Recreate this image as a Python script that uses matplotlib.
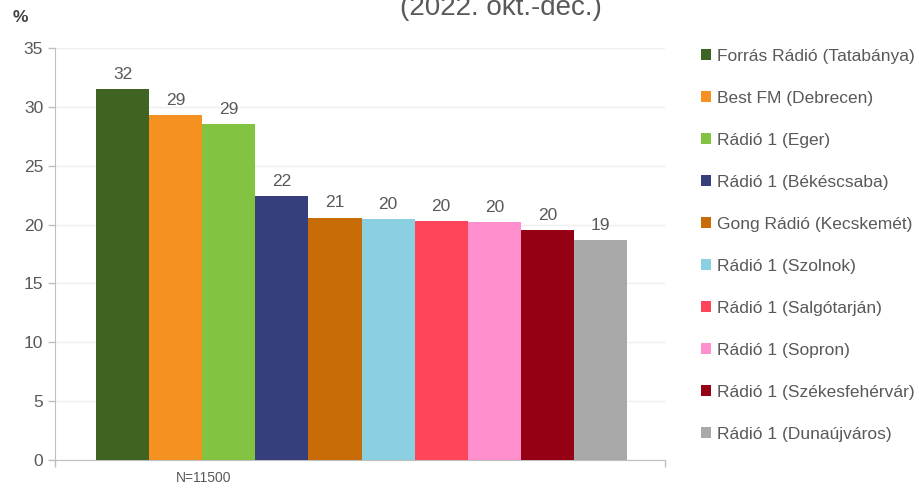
import matplotlib
matplotlib.use("Agg")
import matplotlib.pyplot as plt
from matplotlib.patches import Patch

plt.rcParams['font.family'] = ['Liberation Sans', 'DejaVu Sans']

stations = ["Forrás Rádió (Tatabánya)", "Best FM (Debrecen)", "Rádió 1 (Eger)",
            "Rádió 1 (Békéscsaba)", "Gong Rádió (Kecskemét)", "Rádió 1 (Szolnok)",
            "Rádió 1 (Salgótarján)", "Rádió 1 (Sopron)", "Rádió 1 (Székesfehérvár)",
            "Rádió 1 (Dunaújváros)"]
values = [31.5, 29.3, 28.55, 22.4, 20.6, 20.5, 20.3, 20.2, 19.5, 18.7]
labels = ["32", "29", "29", "22", "21", "20", "20", "20", "20", "19"]
colors = ["#3f6320", "#f59120", "#82c341", "#363f7c", "#c76c06", "#8bd0e0",
          "#ff4559", "#ff8fcd", "#960014", "#a9a9a9"]
yticks = [0, 5, 10, 15, 20, 25, 30, 35]
title = "(2022. okt.-dec.)"
note = "N=11500"

txt = "#595959"
fig = plt.figure(figsize=(9.19, 4.88), dpi=100)
ax = fig.add_axes([55/919, 28/488, 610/919, 412/488])
ax.set_xlim(0, 1)
ax.set_ylim(0, 35)

start = 41/610
w = 53.1/610
for i, (v, c, lab) in enumerate(zip(values, colors, labels)):
    x = start + i*w
    ax.bar(x, v, width=w, align='edge', color=c, linewidth=0, zorder=3)
    ax.text(x + w/2, v + 0.6, lab, ha='center', va='bottom', fontsize=12.5, color=txt)

ax.set_yticks(yticks)
ax.tick_params(axis='y', labelsize=12.5, labelcolor=txt, color="#bfbfbf", length=5, width=1)
ax.yaxis.grid(True, color="#efefef", linewidth=1, zorder=0)
ax.set_xticks([0, 1])
ax.set_xticklabels(["", ""])
ax.tick_params(axis='x', color="#bfbfbf", length=5, width=1)
for s in ["top", "right"]:
    ax.spines[s].set_visible(False)
for s in ["left", "bottom"]:
    ax.spines[s].set_color("#bfbfbf")

fig.text(204/919, 1 - 478/488, note, ha='center', va='center', fontsize=10, color=txt)
fig.text(20/919, 1 - 18/488, "%", ha='center', va='center', fontsize=12.5, color="#404040", fontweight='bold')
fig.text(501/919, 1 - 15/488, title, ha='center', va='baseline', fontsize=20, color=txt)

handles = [Patch(facecolor=c, edgecolor='none') for c in colors]
leg = fig.legend(handles, stations, loc='upper left', bbox_to_anchor=(694/919, 1 - 42/488),
                 frameon=False, fontsize=12.5, labelcolor=txt, handlelength=0.6,
                 handleheight=0.6, handletextpad=0.3, labelspacing=1.555, borderaxespad=0)

fig.savefig("out.png", dpi=100)
